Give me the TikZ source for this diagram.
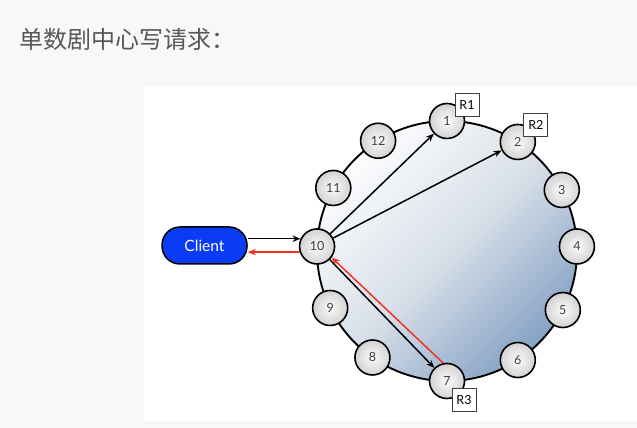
\documentclass[tikz,border=0pt]{standalone}
\usepackage{fontspec}
\setmainfont{Lato}
\newfontfamily\cjk{Noto Sans CJK SC}
\usetikzlibrary{arrows.meta,calc}
\definecolor{bggray}{HTML}{F8F8F8}
\definecolor{titlegray}{HTML}{585858}
\definecolor{clientblue}{HTML}{0A3CF5}
\definecolor{ringlight}{HTML}{FBFCFD}
\definecolor{ringmid}{HTML}{D9E0E9}
\definecolor{ringdark}{HTML}{86A2C6}
\definecolor{arrowred}{HTML}{EE3322}
\tikzset{
	ringnode/.style={circle, draw=black, line width=1.6pt, minimum size=35pt, inner sep=0pt,
		inner color=gray!3, outer color=gray!35, text=black!75, font=\fontsize{12.5}{12.5}\selectfont},
	rbox/.style={draw=black!75, fill=white, line width=0.8pt, minimum width=24pt,
		minimum height=23pt, inner sep=0pt, font=\fontsize{12.5}{12.5}\selectfont},
	clientbox/.style={draw=black, fill=clientblue, line width=1.5pt, rounded corners=18pt,
		minimum width=85pt, minimum height=37pt, text=white, font=\fontsize{15.5}{15.5}\selectfont},
	arr/.style={-{Stealth[length=8pt,width=6.5pt]}, line width=1.5pt}
}
\begin{document}
\begin{tikzpicture}[x=1pt, y=1pt]
	\useasboundingbox (0,0) rectangle (637,428);
	\fill[bggray] (0,0) rectangle (637,428);
	\fill[white] (144,7) rectangle (637,341);
	\node[anchor=west, text=titlegray, font=\cjk\fontsize{24}{24}\selectfont] (title) at (16,389) {单数剧中心写请求：};
	% ring
	\coordinate (c) at (447,177);
	\shadedraw[top color=ringlight, bottom color=ringdark, middle color=ringmid, shading angle=45,
		draw=black, line width=1.9pt] (c) circle (130);
	\foreach \n/\a in {1/90, 2/57, 3/28, 4/2, 5/-27, 6/-57, 7/-90, 8/-125, 9/-154, 10/178, 11/151, 12/122}
		\node[ringnode] (n\n) at ($(c)+(\a:130)$) {\n};
	\node[rbox] (r1) at ([shift={(20,16)}]n1) {R1};
	\node[rbox] (r2) at ([shift={(18,17)}]n2) {R2};
	\node[rbox] (r3) at ([shift={(17,-19)}]n7) {R3};
	% client
	\node[clientbox] (cl) at (204.5,182.5) {Client};
	\draw[arr] (cl.east |- n10.155) -- (n10.155);
	\draw[arr, arrowred] (n10.198) -- (cl.east |- n10.198);
	% replicas
	\draw[arr] (n10) -- (n1);
	\draw[arr] (n10) -- (n2);
	\draw[arr] (n10) -- (n7);
	\draw[arr, arrowred] (n7.102) -- (n10.-37);
\end{tikzpicture}
\end{document}
